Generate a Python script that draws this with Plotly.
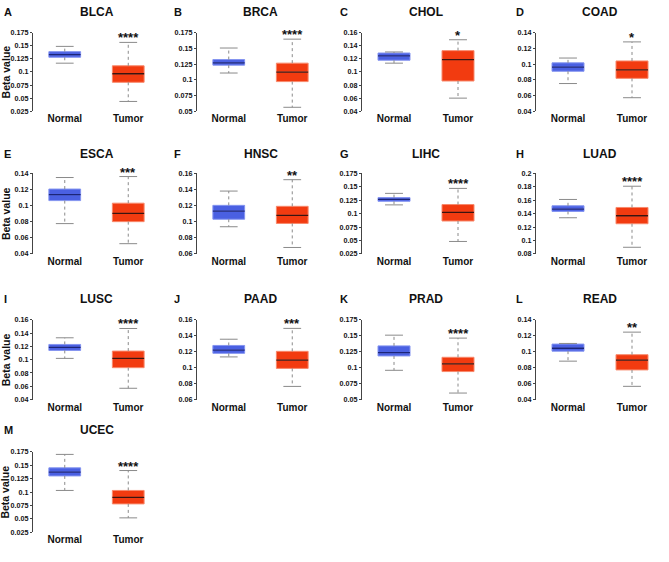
import plotly.graph_objects as go

# ---------------- data ----------------
cancers = ["BLCA", "BRCA", "CHOL", "COAD", "ESCA", "HNSC", "LIHC",
           "LUAD", "LUSC", "PAAD", "PRAD", "READ", "UCEC"]
letters = ["A", "B", "C", "D", "E", "F", "G", "H", "I", "J", "K", "L", "M"]
groups = ["Normal", "Tumor"]
stars = ["****", "****", "*", "*", "***", "**", "****",
         "****", "****", "***", "****", "**", "****"]

normal_lower = [0.1166, 0.1107, 0.1133, 0.0752, 0.0776, 0.0937, 0.1162,
                0.1338, 0.1020, 0.1135, 0.0959, 0.0882, 0.1030]
normal_q1 = [0.1279, 0.1232, 0.1178, 0.0908, 0.1061, 0.1030, 0.1229,
             0.1432, 0.1140, 0.1180, 0.1184, 0.1007, 0.1300]
normal_med = [0.1329, 0.1269, 0.1243, 0.0961, 0.1135, 0.1130, 0.1266,
              0.1467, 0.1185, 0.1221, 0.1235, 0.1044, 0.1370]
normal_q3 = [0.1386, 0.1321, 0.1288, 0.1015, 0.1204, 0.1202, 0.1297,
             0.1516, 0.1230, 0.1279, 0.1342, 0.1096, 0.1450]
normal_upper = [0.1486, 0.1504, 0.1304, 0.1076, 0.1347, 0.1379, 0.1376,
                0.1610, 0.1330, 0.1357, 0.1510, 0.1104, 0.1700]

tumor_lower = [0.0437, 0.0563, 0.0600, 0.0572, 0.0527, 0.0680, 0.0482,
               0.0899, 0.0570, 0.0765, 0.0602, 0.0566, 0.0520]
tumor_q1 = [0.0802, 0.0971, 0.0861, 0.0818, 0.0800, 0.0978, 0.0862,
            0.1249, 0.0880, 0.0991, 0.0939, 0.0772, 0.0780]
tumor_med = [0.0965, 0.1122, 0.1188, 0.0925, 0.0902, 0.1078, 0.1021,
             0.1368, 0.1020, 0.1094, 0.1061, 0.0894, 0.0900]
tumor_q3 = [0.1116, 0.1264, 0.1324, 0.1039, 0.1029, 0.1190, 0.1168,
            0.1491, 0.1130, 0.1205, 0.1163, 0.0963, 0.1030]
tumor_upper = [0.1562, 0.1645, 0.1490, 0.1281, 0.1359, 0.1520, 0.1468,
               0.1807, 0.1470, 0.1493, 0.1464, 0.1246, 0.1400]

y_min = [0.025, 0.05, 0.04, 0.04, 0.04, 0.06, 0.025, 0.08, 0.04, 0.06, 0.05, 0.04, 0.025]
y_max = [0.175, 0.175, 0.16, 0.14, 0.14, 0.16, 0.175, 0.2, 0.16, 0.16, 0.175, 0.14, 0.175]
y_step = [0.025, 0.025, 0.02, 0.02, 0.02, 0.02, 0.025, 0.02, 0.02, 0.02, 0.025, 0.02, 0.025]

# ---------------- layout geometry (pixels) ----------------
W, H = 669, 562
col_left = [33, 197, 362, 536]
col_w = [127, 127, 128, 128]
row_top = [29, 172, 321, 455]
row_bot = [109, 254, 402, 537]
title_y = [8, 152, 300, 433]
letter_x = [2, 172, 338, 514]

FONT = "Liberation Sans, Arial, sans-serif"
blue_fill, blue_line, blue_med = "#4a60e2", "#8494f0", "#1c2577"
red_fill, red_line, red_med = "#f23b10", "#f8896c", "#3a1410"
whisk = "#8a8a8a"
axis_c = "#444444"


def px(x):
    return x / W


def py(y):
    return 1 - y / H


def fmt(v):
    s = f"{v:.3f}".rstrip("0").rstrip(".")
    return s


fig = go.Figure()
annotations = []
layout_axes = {}

for k, name in enumerate(cancers):
    r, c = divmod(k, 4)
    n = k + 1
    xa = "x" if n == 1 else f"x{n}"
    ya = "y" if n == 1 else f"y{n}"
    stats = [
        (normal_lower[k], normal_q1[k], normal_med[k], normal_q3[k], normal_upper[k],
         blue_fill, blue_line, blue_med),
        (tumor_lower[k], tumor_q1[k], tumor_med[k], tumor_q3[k], tumor_upper[k],
         red_fill, red_line, red_med),
    ]
    for i, (lo, q1, md, q3, up, fc, lc, mc) in enumerate(stats):
        cap = 0.14
        fig.add_trace(go.Scatter(
            x=[i, i, None, i, i], y=[q3, up, None, q1, lo], mode="lines",
            line=dict(color=whisk, width=1, dash="dot"),
            xaxis=xa, yaxis=ya, showlegend=False, hoverinfo="skip"))
        fig.add_trace(go.Scatter(
            x=[i - cap, i + cap, None, i - cap, i + cap], y=[up, up, None, lo, lo],
            mode="lines", line=dict(color=whisk, width=1),
            xaxis=xa, yaxis=ya, showlegend=False, hoverinfo="skip"))
        fig.add_trace(go.Box(
            x=[i], q1=[q1], median=[md], q3=[q3], lowerfence=[q1], upperfence=[q3],
            width=0.5, whiskerwidth=0, fillcolor=fc, line=dict(color=lc, width=1),
            xaxis=xa, yaxis=ya, showlegend=False, hoverinfo="skip"))
        fig.add_trace(go.Scatter(
            x=[i - 0.25, i + 0.25], y=[md, md], mode="lines",
            line=dict(color=mc, width=1.3),
            xaxis=xa, yaxis=ya, showlegend=False, hoverinfo="skip"))

    ticks = []
    v = y_min[k]
    while v <= y_max[k] + 1e-9:
        ticks.append(round(v, 4))
        v += y_step[k]

    x0 = col_left[c]
    x1 = col_left[c] + col_w[c]
    layout_axes["xaxis" if n == 1 else f"xaxis{n}"] = dict(
        domain=[px(x0), px(x1)], range=[-0.5, 1.5], anchor=ya,
        tickvals=[0, 1], ticktext=groups, showline=False, ticks="",
        showgrid=False, zeroline=False, fixedrange=True,
        tickfont=dict(family=FONT, size=10, color="#111", weight="bold"))
    layout_axes["yaxis" if n == 1 else f"yaxis{n}"] = dict(
        domain=[py(row_bot[r]), py(row_top[r])], range=[y_min[k], y_max[k]],
        anchor=xa, tickvals=ticks, ticktext=[fmt(t) for t in ticks],
        showline=True, linecolor=axis_c, linewidth=1, ticks="outside",
        ticklen=2, tickcolor=axis_c, tickwidth=1, showgrid=False,
        zeroline=False, fixedrange=True,
        tickfont=dict(family=FONT, size=7.2, color="#111", weight="bold"))

    # title
    annotations.append(dict(
        text=f"<b>{name}</b>", x=px((x0 + x1) / 2), y=py(title_y[r]),
        xref="paper", yref="paper", xanchor="center", yanchor="middle",
        showarrow=False, font=dict(family=FONT, size=12, color="#111")))
    # letter
    annotations.append(dict(
        text=f"<b>{letters[k]}</b>", x=px(letter_x[c]), y=py(title_y[r]),
        xref="paper", yref="paper", xanchor="left", yanchor="middle",
        showarrow=False, font=dict(family=FONT, size=11, color="#111")))
    # significance stars
    annotations.append(dict(
        text=f"<b>{stars[k]}</b>", x=1, y=tumor_upper[k], xref=xa, yref=ya,
        xanchor="center", yanchor="bottom", yshift=-5, showarrow=False,
        font=dict(family=FONT, size=13, color="#111")))
    # y label
    if c == 0:
        annotations.append(dict(
            text="<b>Beta value</b>", x=px(5.5), y=py((row_top[r] + row_bot[r]) / 2),
            xref="paper", yref="paper", xanchor="center", yanchor="middle",
            textangle=-90, showarrow=False, borderpad=0,
            font=dict(family=FONT, size=10.5, color="#111")))

fig.update_layout(
    width=W, height=H, margin=dict(l=0, r=0, t=0, b=0),
    paper_bgcolor="white", plot_bgcolor="white",
    annotations=annotations, showlegend=False, **layout_axes)

fig.write_html("out.html", config={"displayModeBar": False},
               post_script="document.body.style.margin='0px';")
